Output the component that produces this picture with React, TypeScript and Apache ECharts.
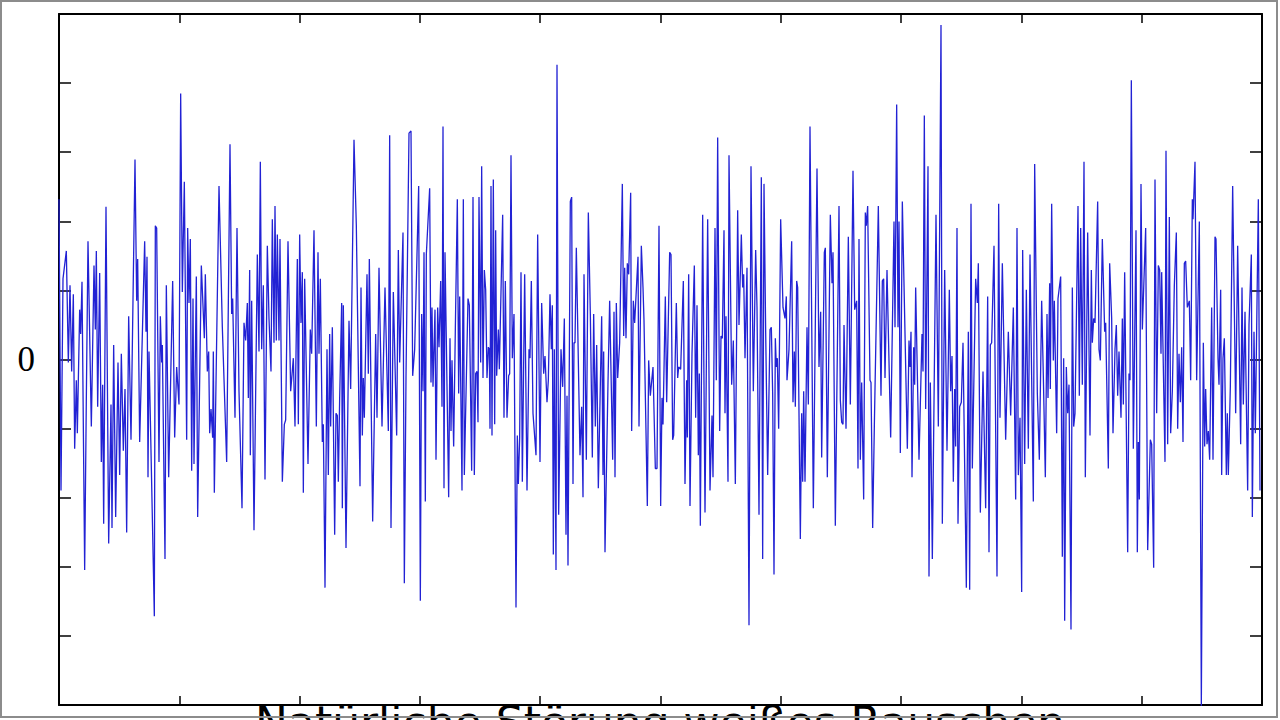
import { useEffect, useRef } from "react";
import * as echarts from "echarts";

// White-noise trace: [time (samples), amplitude (arb. units)]
const segment1: number[][] = [
  [0,363],[6,-297],[12,183],[22,246],[28,-7],[33,168],[38,-27],[43,148],[47,-202],[52,-47],[55,-167],[62,113],[65,58],[69,176],[77,-477],[82,-87],[87,268],[97,-152],[105,213],[109,68],[112,246],[116,-107],[122,196],[127,-232],[131,-57],[134,-372],[141,346],[149,-417],[156,-102],[159,-382],[164,33],[170,-357],[177,-7],[182,-262],[187,13],[193,-207],[198,-67],[203,-392],[209,98],[216,-182],[228,453],[233,133],[236,228],[242,-187],[257,268],[261,63],[264,233],[267,-267],[270,18],[286,-582],[289,303],[293,298],[300,-232],[304,98],[308,-7],[310,33],[318,-452],[322,168],[329,-267],[341,178],[347,-177],[353,-17],[360,-102],[365,603],[370,153],[376,403],[383,-182],[386,298],[390,128],[394,273],[398,-252],[402,138],[405,-237],[412,188],[416,-357],[427,213],[436,48],[439,193],[445,-27],[449,18],[452,-167],[456,-112],[461,-177],[463,18],[466,-302],[480,393],[490,73],[503,-232],[513,488],[518,103],[521,138],[528,-132],[534,298],[540,-72],[549,-337],[555,83],[560,43],[565,128],[568,-87],[572,203],[574,-217],[578,133],[585,-387],[595,238],[600,18],[604,448]
];
const segment2: number[][] = [
  [608,23],[613,168],[618,-272],[625,258],[630,93],[636,-27],[640,318],[645,38],[648,348],[652,43],[655,283],[660,43],[663,273],[670,-277],[676,-147],[680,-137],[687,268],[695,-72],[703,3],[708,-152],[715,228],[718,-147],[722,283],[726,83],[730,198],[733,-302],[737,183],[747,-237],[754,68],[758,13],[765,293],[772,-152],[777,243],[780,13],[784,183],[790,-187],[793,-147],[798,-517],[804,23],[808,-262],[812,58],[815,-152],[820,73],[827,-397],[831,-122],[835,-127],[838,-277],[842,-87],[848,128],[850,-337],[853,123],[861,-427],[870,88],[875,-67],[885,498],[892,303],[903,-287],[906,163],[910,-172],[913,-42],[916,-132],[924,193],[928,-32],[931,228],[941,-367],[950,58],[954,-132],[960,208],[969,-152],[978,163],[988,-162],[992,508],[996,-382],[1003,153],[1013,-172],[1018,248],[1022,-7],[1032,288],[1036,-507],[1041,-42],[1050,513],[1056,518],[1061,-37],[1067,23],[1079,393],[1084,-547],[1088,103],[1092,-72],[1095,243],[1099,-322],[1102,238],[1112,388],[1116,-52],[1119,118],[1122,-62],[1128,113],[1131,-227],[1136,118],[1140,28],[1145,178],[1149,-107],[1152,528],[1155,-292],[1158,243],[1169,-312],[1173,48],[1176,-162],[1179,-2],[1184,-197],[1189,68],[1195,363],[1199,-77]
];
const segment3: number[][] = [
  [1202,143],[1209,-297],[1213,363],[1216,-262],[1227,138],[1231,123],[1238,-252],[1242,368],[1246,-262],[1250,-32],[1254,-27],[1257,-142],[1260,368],[1265,-7],[1268,438],[1272,-42],[1276,203],[1280,158],[1284,-42],[1288,28],[1291,23],[1293,-157],[1296,393],[1299,-172],[1303,408],[1307,-147],[1310,293],[1313,-37],[1318,68],[1321,-22],[1331,328],[1335,-132],[1339,178],[1344,-132],[1349,-37],[1352,-32],[1356,463],[1360,3],[1365,103],[1371,-562],[1375,-172],[1378,-282],[1382,-177],[1386,198],[1390,-277],[1397,193],[1404,-297],[1410,23],[1413,3],[1417,178],[1422,-122],[1431,-217],[1436,283],[1443,-232],[1448,128],[1454,-32],[1458,8],[1464,-97],[1468,-47],[1473,148],[1477,23],[1480,123],[1483,-442],[1486,23],[1491,-477],[1494,668],[1499,-352],[1506,23],[1511,-62],[1516,93],[1521,-397],[1524,-82],[1527,-467],[1534,358],[1538,368],[1542,-282],[1545,38],[1548,38],[1552,253],[1563,-217],[1568,-107],[1572,-312],[1575,193],[1582,-227],[1588,333],[1594,103],[1600,-222],[1604,103],[1609,-152],[1613,33],[1618,-292],[1628,98],[1632,-262],[1634,18],[1638,-437],[1647,-52],[1652,133],[1661,-227],[1665,108],[1668,-267],[1672,128],[1676,-42],[1682,38],[1690,398],[1694,53],[1697,208],[1701,48],[1705,218],[1709,193],[1715,378],[1718,-162],[1723,133],[1727,83],[1737,233],[1740,-152],[1747,258],[1752,163],[1755,88],[1765,-332],[1769,-2],[1774,-82],[1782,-17],[1789,-247],[1794,-247],[1800,303]
];
const segment4: number[][] = [
  [1805,-332],[1809,-87],[1812,-147],[1819,143],[1823,-97],[1832,243],[1836,238],[1841,-182],[1844,-172],[1852,128],[1856,-42],[1859,-17],[1865,-22],[1873,178],[1878,-282],[1883,-47],[1885,-177],[1889,193],[1893,-332],[1899,13],[1906,213],[1910,-132],[1914,123],[1918,-217],[1921,-32],[1924,-377],[1931,328],[1938,-347],[1946,318],[1953,-297],[1959,-127],[1962,-267],[1968,298],[1972,-47],[1976,503],[1982,-162],[1986,53],[1990,48],[1995,293],[1998,-122],[2001,98],[2007,-277],[2010,463],[2018,-57],[2023,43],[2029,-282],[2036,338],[2040,78],[2047,283],[2051,163],[2054,193],[2058,3],[2064,208],[2070,-602],[2076,438],[2083,-72],[2090,248],[2094,118],[2100,-352],[2107,413],[2111,-452],[2115,398],[2120,63],[2126,-262],[2133,68],[2137,73],[2141,-77],[2145,-487],[2149,48],[2152,-17],[2155,3],[2159,-157],[2165,318],[2172,118],[2178,93],[2182,143],[2184,-47],[2190,23],[2198,268],[2202,-97],[2206,18],[2209,-107],[2213,178],[2216,163],[2224,-407],[2228,-122],[2231,-277],[2234,-72],[2238,-277],[2244,73],[2248,-102],[2253,528],[2263,-337],[2274,433],[2280,-17],[2285,108],[2288,-222],[2296,243],[2299,253],[2305,-267],[2314,328],[2319,173],[2322,243],[2329,-377],[2340,348],[2344,-92],[2348,-142],[2352,-147],[2355,78],[2361,-157],[2368,278],[2374,-102],[2382,428],[2387,113],[2393,133],[2397,-247]
];
const segment5: number[][] = [
  [2400,273],[2404,-227],[2408,-52],[2414,-317],[2419,333],[2422,303],[2426,348],[2433,-47],[2436,-52],[2441,-382],[2446,-152],[2458,348],[2466,-82],[2470,178],[2474,183],[2478,-42],[2484,203],[2495,-177],[2505,313],[2508,73],[2513,578],[2517,73],[2520,313],[2524,-212],[2530,358],[2545,-202],[2550,43],[2553,-17],[2556,63],[2559,-267],[2564,28],[2567,-57],[2570,163],[2580,-227],[2589,58],[2592,-27],[2596,553],[2600,-112],[2607,438],[2610,-492],[2614,-52],[2620,-452],[2631,328],[2638,-152],[2646,758],[2650,-372],[2657,203],[2664,-207],[2671,158],[2675,-72],[2679,8],[2683,-277],[2687,-67],[2690,-197],[2694,298],[2697,-372],[2702,-107],[2707,-97],[2712,38],[2722,-517],[2728,63],[2732,-522],[2736,353],[2740,-247],[2750,183],[2755,128],[2758,218],[2764,-347],[2772,-27],[2780,-337],[2786,143],[2790,-437],[2794,33],[2798,38],[2805,258],[2814,-492],[2819,353],[2823,-132],[2830,218],[2840,-182],[2848,63],[2855,-127],[2863,118],[2870,-317],[2874,298],[2878,-262],[2883,-132],[2888,-527],[2891,248],[2897,-237],[2902,158],[2908,-202],[2913,238],[2918,-42],[2923,-322],[2927,443],[2935,-77],[2941,-227],[2948,133],[2953,-37],[2959,-267],[2964,103],[2967,-87],[2972,173],[2974,-67],[2978,353],[2983,-2],[2986,133],[2993,-167],[2997,138]
];
const segment6: number[][] = [
  [3005,188],[3010,-447],[3014,3],[3017,-592],[3022,-17],[3026,-122],[3030,-57],[3036,-612],[3040,163],[3044,-152],[3048,-122],[3057,348],[3061,-82],[3065,298],[3070,-57],[3075,448],[3079,-267],[3086,288],[3093,-172],[3097,203],[3100,38],[3104,93],[3108,83],[3116,358],[3120,23],[3124,-2],[3130,273],[3137,63],[3140,83],[3148,-247],[3152,218],[3158,93],[3162,-167],[3168,23],[3172,78],[3176,-82],[3180,18],[3186,-132],[3190,93],[3193,-102],[3197,198],[3206,-437],[3210,-32],[3213,-47],[3217,633],[3223,-202],[3231,293],[3235,-437],[3238,-187],[3241,-317],[3246,398],[3250,68],[3260,298],[3266,-432],[3274,-182],[3278,-192],[3284,-472],[3288,408],[3293,-122],[3298,213],[3302,203],[3306,13],[3308,198],[3318,-232],[3321,473],[3326,-192],[3331,323],[3335,-167],[3340,-72],[3346,168],[3352,288],[3356,-157],[3360,13],[3364,-97],[3368,28],[3372,-187],[3376,218],[3380,223],[3385,118],[3391,133],[3395,-47],[3400,363],[3402,318],[3408,448],[3413,-47],[3421,313],[3427,-785],[3433,38],[3437,-197],[3440,-67],[3444,-192],[3448,-162],[3452,-227],[3458,118],[3462,-227],[3468,278],[3471,273],[3477,3],[3480,-57],[3485,158],[3488,-262],[3492,3],[3496,48],[3502,-262],[3505,-122],[3508,-262],[3514,-62],[3521,393],[3528,3],[3530,-122],[3536,258],[3545,-192],[3549,163],[3553,-102],[3558,108],[3566,-297],[3570,78],[3577,238],[3580,-357],[3585,63],[3589,-167],[3598,363],[3603,-297]
];

const timeRange = [0, 3609];
const timeTickStep = 360.9;
const ampRange = [-783, 783];
const ampTickStep = 156.6;
const caption = "Natürliche Störung weißes Rauschen";

export default function App() {
  const ref = useRef<HTMLDivElement>(null);
  useEffect(() => {
    const chart = echarts.init(ref.current!, null, { renderer: "svg" });
    const data = [...segment1, ...segment2, ...segment3, ...segment4, ...segment5, ...segment6];
    const frameAxis = {
      axisLine: { show: true, onZero: false, lineStyle: { color: "#000", width: 2 } },
      splitLine: { show: false },
      axisLabel: { show: false },
    };
    const xTick = { show: true, inside: true, length: 9, lineStyle: { color: "#000", width: 1.5 } };
    const yTick = { show: true, inside: true, length: 12, lineStyle: { color: "#000", width: 1.5 } };
    chart.setOption({
      animation: false,
      backgroundColor: "#fff",
      grid: { left: 59, top: 14, width: 1203, height: 691, containLabel: false },
      xAxis: [
        { type: "value", min: timeRange[0], max: timeRange[1], interval: timeTickStep, position: "bottom", ...frameAxis, axisTick: xTick },
        { type: "value", min: timeRange[0], max: timeRange[1], interval: timeTickStep, position: "top", ...frameAxis, axisTick: xTick },
      ],
      yAxis: [
        {
          type: "value", min: ampRange[0], max: ampRange[1], interval: ampTickStep, position: "left",
          ...frameAxis, axisTick: yTick,
          axisLabel: {
            show: true,
            formatter: (v: number) => (Math.abs(v) < 1e-6 ? "0" : ""),
            fontFamily: "Liberation Serif",
            fontSize: 35,
            color: "#000",
            margin: 24,
          },
        },
        { type: "value", min: ampRange[0], max: ampRange[1], interval: ampTickStep, position: "right", ...frameAxis, axisTick: yTick },
      ],
      series: [
        {
          type: "line",
          data,
          symbol: "none",
          showSymbol: false,
          clip: true,
          lineStyle: { color: "#2222d4", width: 1.3 },
          xAxisIndex: 0,
          yAxisIndex: 0,
        },
      ],
      graphic: [
        {
          type: "text",
          x: 660,
          y: 700,
          style: {
            text: caption,
            fontFamily: "DejaVu Sans",
            fontSize: 44,
            fill: "#000",
            textAlign: "center",
            textVerticalAlign: "top",
          },
          silent: true,
        },
        {
          type: "rect",
          shape: { x: 1, y: 1, width: 1276, height: 716 },
          style: { fill: "none", stroke: "#8c8c8c", lineWidth: 2 },
          silent: true,
          z: 100,
        },
      ],
    });
    return () => chart.dispose();
  }, []);
  return (
    <div
      ref={ref}
      style={{ position: "absolute", left: 0, top: 0, width: 1280, height: 720, background: "#fff" }}
    />
  );
}
